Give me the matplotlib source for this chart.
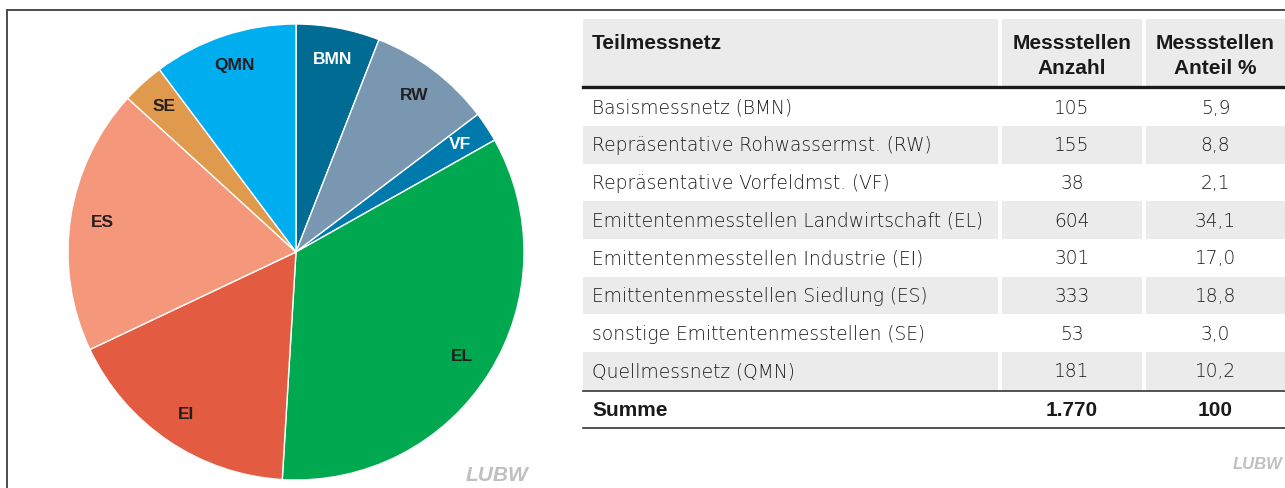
import matplotlib
matplotlib.use('Agg')
import matplotlib.pyplot as plt
from matplotlib.patches import Rectangle
from matplotlib.lines import Line2D

# Teilmessnetze: Kurzname, Langname, Anzahl Messstellen, Anteil in %
codes = ['BMN', 'RW', 'VF', 'EL', 'EI', 'ES', 'SE', 'QMN']
names = ['Basismessnetz (BMN)',
         'Repräsentative Rohwassermst. (RW)',
         'Repräsentative Vorfeldmst. (VF)',
         'Emittentenmesstellen Landwirtschaft (EL)',
         'Emittentenmesstellen Industrie (EI)',
         'Emittentenmesstellen Siedlung (ES)',
         'sonstige Emittentenmesstellen (SE)',
         'Quellmessnetz (QMN)']
counts = [105, 155, 38, 604, 301, 333, 53, 181]
shares = [5.9, 8.8, 2.1, 34.1, 17.0, 18.8, 3.0, 10.2]
share_total = 100

colors = ['#006b93', '#7a97b2', '#0079ad', '#00a94f',
          '#e35b41', '#f4977b', '#df9a4d', '#00aeef']
label_colors = ['white', '#231f20', 'white', '#231f20',
                '#231f20', '#231f20', '#231f20', '#231f20']

W, H = 1285, 488
fig = plt.figure(figsize=(W / 100, H / 100), dpi=100)

# --- Kreisdiagramm ---
cx, cy, r = 296, 252, 228
pie_ax = fig.add_axes([(cx - r) / W, (H - cy - r) / H, 2 * r / W, 2 * r / H])
wedges, texts = pie_ax.pie(
    counts, labels=codes, colors=colors, startangle=90, counterclock=False,
    labeldistance=0.86,
    wedgeprops=dict(edgecolor='white', linewidth=1.0),
    textprops=dict(fontsize=12.5, fontweight='bold', family='Liberation Sans'))
for t, c in zip(texts, label_colors):
    t.set_ha('center')
    t.set_va('center')
    t.set_color(c)
pie_ax.set_aspect('auto')
pie_ax.set_xlim(-1, 1)
pie_ax.set_ylim(-1, 1)
pie_ax.axis('off')

# --- Tabelle und Rahmen in Pixelkoordinaten ---
ax = fig.add_axes([0, 0, 1, 1], zorder=-1)
ax.set_xlim(0, W)
ax.set_ylim(H, 0)
ax.axis('off')

frame_color = '#4d4d4d'
ax.add_line(Line2D([7, W], [10, 10], color=frame_color, lw=1.4))
ax.add_line(Line2D([7, 7], [10, H], color=frame_color, lw=1.4))

grey = '#ebebec'
col_edges = [583, 998, 1142, W]
gap = 4
col_centers = [(col_edges[1] + gap + col_edges[2]) / 2,
               (col_edges[2] + gap + col_edges[3]) / 2]
text_x = 592

body_font = dict(family='DejaVu Sans', fontweight='light',
                 fontsize=13.4, color='#1c1c1c')
bold_font = dict(family='Liberation Sans', fontweight='bold',
                 fontsize=15, color='#1a1a1a')


def grey_band(y0, y1):
    for i in range(3):
        x0 = col_edges[i] + (gap if i > 0 else 0)
        ax.add_patch(Rectangle((x0, y0), col_edges[i + 1] - x0, y1 - y0,
                               facecolor=grey, edgecolor='none'))


# Kopfzeile
head_top, head_bot = 19, 86
grey_band(head_top, head_bot)
ax.text(text_x, 49, 'Teilmessnetz', ha='left', va='baseline', **bold_font)
ax.text(col_centers[0], 49, 'Messstellen', ha='center', va='baseline', **bold_font)
ax.text(col_centers[0], 74, 'Anzahl', ha='center', va='baseline', **bold_font)
ax.text(col_centers[1], 49, 'Messstellen', ha='center', va='baseline', **bold_font)
ax.text(col_centers[1], 74, 'Anteil %', ha='center', va='baseline', **bold_font)
ax.add_line(Line2D([583, W], [87, 87], color='#1a1a1a', lw=2.4))

# Datenzeilen
row_top, row_h = 88.2, 37.7
for i, (name, n, p) in enumerate(zip(names, counts, shares)):
    y0 = row_top + i * row_h
    if i % 2 == 1:
        grey_band(y0, y0 + row_h)
    yb = y0 + row_h / 2 + 6.5
    ax.text(text_x, yb, name, ha='left', va='baseline', **body_font)
    ax.text(col_centers[0], yb, f'{n}', ha='center', va='baseline', **body_font)
    ax.text(col_centers[1], yb, f'{p:.1f}'.replace('.', ','), ha='center',
            va='baseline', **body_font)

# Summenzeile
y_sum = row_top + len(names) * row_h
ax.add_line(Line2D([583, W], [y_sum + 1, y_sum + 1], color='#333333', lw=1.2))
total = sum(counts)
yb = y_sum + row_h / 2 + 7.5
ax.text(text_x, yb, 'Summe', ha='left', va='baseline', **bold_font)
ax.text(col_centers[0], yb, f'{total:,}'.replace(',', '.'), ha='center',
        va='baseline', **bold_font)
ax.text(col_centers[1], yb, f'{share_total}', ha='center', va='baseline',
        **bold_font)
ax.add_line(Line2D([583, W], [y_sum + row_h + 0.5] * 2, color='#333333', lw=1.2))

# Logos
logo_font = dict(family='Liberation Sans', fontweight='bold',
                 fontstyle='italic', color='#c0c0c2')
ax.text(497, 481, 'LUBW', ha='center', va='baseline', fontsize=15, **logo_font)
ax.text(1283, 469, 'LUBW', ha='right', va='baseline', fontsize=12, **logo_font)

fig.savefig('out.png', dpi=100)
